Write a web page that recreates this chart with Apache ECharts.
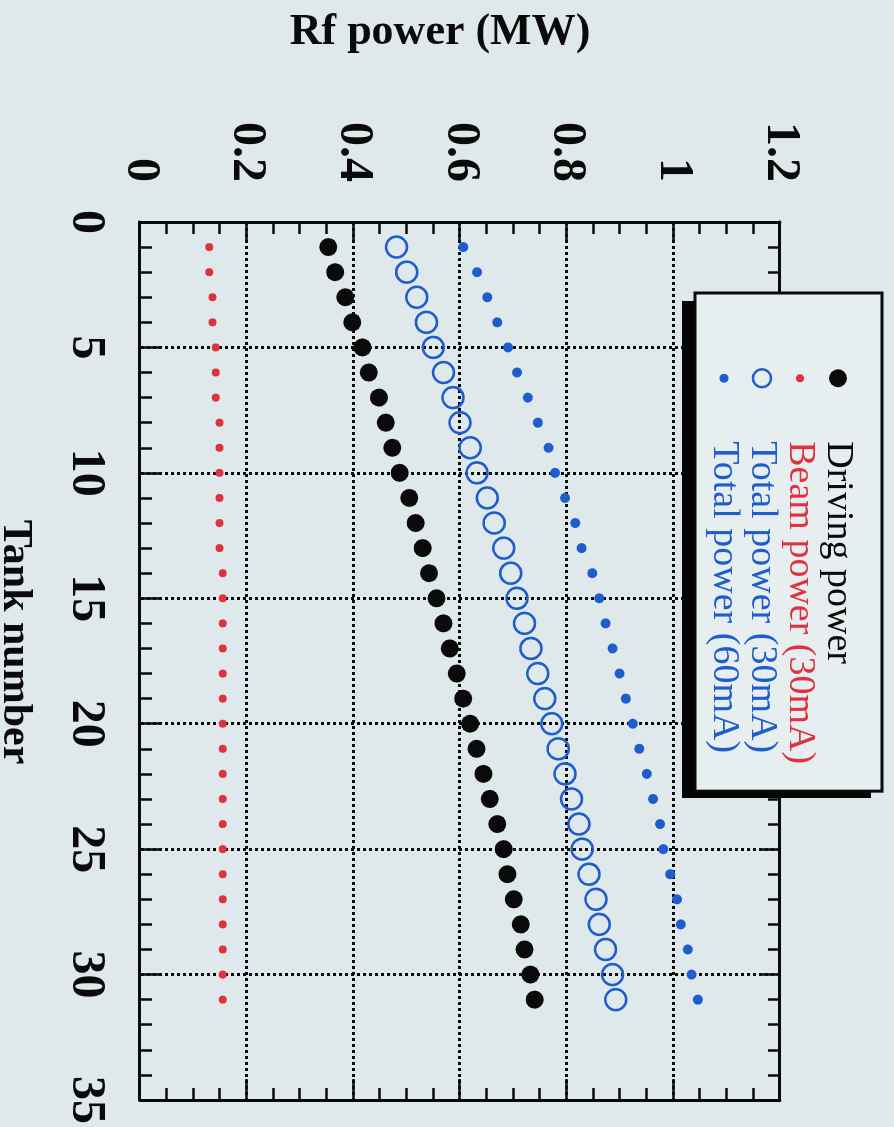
<!DOCTYPE html>
<html>
<head>
<meta charset="utf-8">
<script src="https://cdn.jsdelivr.net/npm/echarts@6/dist/echarts.min.js"></script>
<style>
html,body{margin:0;padding:0;width:894px;height:1127px;overflow:hidden;background:#dfe9eb;}
#wrap{position:absolute;left:0;top:0;width:1127px;height:894px;transform-origin:0 0;transform:translateX(894px) rotate(90deg);}
#chart{width:1127px;height:894px;}
</style>
</head>
<body>
<div id="wrap"><div id="chart"></div></div>
<script>
// ---- data ----
const tanks = [1,2,3,4,5,6,7,8,9,10,11,12,13,14,15,16,17,18,19,20,21,22,23,24,25,26,27,28,29,30,31];
const drivingPower = [0.353,0.366,0.385,0.398,0.417,0.429,0.448,0.461,0.473,0.487,0.505,0.517,0.530,0.542,0.556,0.569,0.581,0.594,0.606,0.619,0.631,0.644,0.656,0.670,0.682,0.689,0.701,0.714,0.721,0.732,0.740];
const beamPower30 = [0.130,0.130,0.136,0.136,0.142,0.142,0.142,0.149,0.149,0.149,0.149,0.149,0.149,0.155,0.155,0.155,0.155,0.155,0.155,0.155,0.155,0.155,0.155,0.155,0.155,0.155,0.155,0.155,0.155,0.155,0.155];
const totalPower30 = [0.481,0.500,0.519,0.537,0.550,0.569,0.587,0.600,0.619,0.632,0.651,0.664,0.682,0.695,0.707,0.721,0.733,0.746,0.759,0.772,0.784,0.797,0.809,0.823,0.829,0.842,0.855,0.861,0.873,0.886,0.892];
const totalPower60 = [0.606,0.632,0.651,0.670,0.690,0.707,0.727,0.746,0.766,0.778,0.797,0.816,0.828,0.848,0.861,0.873,0.886,0.899,0.911,0.924,0.936,0.950,0.962,0.975,0.981,0.994,1.007,1.014,1.027,1.034,1.046];
const seriesNames = ['Driving power','Beam power (30mA)','Total power (30mA)','Total power (60mA)'];
const tankTicks = {min:0, max:35, interval:5};
const powerTicks = {min:0, max:1.2, interval:0.2};
const xTitle = 'Tank number';
const yTitle = 'Rf power (MW)';

// ---- styling ----
const FONT = '"Liberation Serif","Times New Roman",Times,serif';
const INK = '#0a0a0a';
const RED = '#e0323e';
const BLUE = '#1f5ccc';

function pairs(vals){ return tanks.map((t,i)=>[t, vals[i]]); }

function ax(extra){
  return Object.assign({
    type:'value',
    axisLine:{show:true,onZero:false,lineStyle:{color:INK,width:3}},
    axisTick:{show:true,inside:true,length:21,lineStyle:{color:INK,width:2.5}},
    splitLine:{show:false},
    axisLabel:{show:false}
  }, extra);
}
const labelStyle = {fontSize:48,fontWeight:'bold',fontFamily:FONT,color:INK};
const gridLine = {show:true,lineStyle:{color:INK,width:3,type:[3,3]}};
const tankMinor = {show:true,splitNumber:5,length:12,lineStyle:{color:INK,width:2.5}};
const powerMinor = {show:true,splitNumber:4,length:12,lineStyle:{color:INK,width:2.5}};

const chart = echarts.init(document.getElementById('chart'), null, {renderer:'canvas'});
const option = {
  backgroundColor:'#dfe9eb',
  animation:false,
  grid:{left:222,right:27,top:114,bottom:140,containLabel:false},
  xAxis:[
    ax(Object.assign({}, tankTicks, {position:'bottom', minorTick:tankMinor,
      axisLabel:Object.assign({show:true,margin:31}, labelStyle), splitLine:gridLine})),
    ax(Object.assign({}, tankTicks, {position:'top', minorTick:tankMinor}))
  ],
  yAxis:[
    ax(Object.assign({}, powerTicks, {position:'left', minorTick:powerMinor,
      axisLabel:Object.assign({show:true,margin:40}, labelStyle), splitLine:gridLine})),
    ax(Object.assign({}, powerTicks, {position:'right', minorTick:powerMinor}))
  ],
  graphic:[
    {type:'text', x:33, y:454, rotation:Math.PI/2,
     style:{text:yTitle, font:'bold 44px '+FONT, fill:INK, align:'center', verticalAlign:'middle'}},
    {type:'text', x:642, y:879,
     style:{text:xTitle, font:'bold 42px '+FONT, fill:INK, align:'center', verticalAlign:'middle'}},
    // drop shadow of the legend box
    {type:'rect', z:9, shape:{x:301, y:23, width:497, height:189}, style:{fill:'#050505'}}
  ],
  legend:{
    orient:'vertical', left:293, top:12, z:10,
    itemWidth:18, itemHeight:18, itemGap:0,
    padding:[25,27,10,75],
    backgroundColor:'#e7eef0', borderColor:INK, borderWidth:3,
    selectedMode:false,
    textStyle:{fontFamily:FONT,fontSize:38,padding:[0,0,0,49]},
    data:[
      {name:seriesNames[0], icon:'circle', itemStyle:{color:INK,opacity:1}, textStyle:{color:INK}},
      {name:seriesNames[1], icon:'path://M0 0M18 18M9 5A4 4 0 1 1 9 13A4 4 0 1 1 9 5Z', itemStyle:{color:RED,opacity:1}, textStyle:{color:RED}},
      {name:seriesNames[2], icon:'circle', itemStyle:{color:'transparent',borderColor:BLUE,borderWidth:2.5,opacity:1}, textStyle:{color:BLUE}},
      {name:seriesNames[3], icon:'path://M0 0M18 18M9 4.5A4.5 4.5 0 1 1 9 13.5A4.5 4.5 0 1 1 9 4.5Z', itemStyle:{color:BLUE,opacity:1}, textStyle:{color:BLUE}}
    ]
  },
  series:[
    {name:seriesNames[0], type:'scatter', data:pairs(drivingPower), symbol:'circle', symbolSize:18,
     itemStyle:{color:INK,opacity:1}, z:3},
    {name:seriesNames[1], type:'scatter', data:pairs(beamPower30), symbol:'circle', symbolSize:8,
     itemStyle:{color:RED,opacity:1}, z:3},
    {name:seriesNames[2], type:'scatter', data:pairs(totalPower30), symbol:'circle', symbolSize:21,
     itemStyle:{color:'transparent',borderColor:BLUE,borderWidth:2.5,opacity:1}, z:3},
    {name:seriesNames[3], type:'scatter', data:pairs(totalPower60), symbol:'circle', symbolSize:10,
     itemStyle:{color:BLUE,opacity:1}, z:3}
  ]
};
chart.setOption(option);
</script>
</body>
</html>
